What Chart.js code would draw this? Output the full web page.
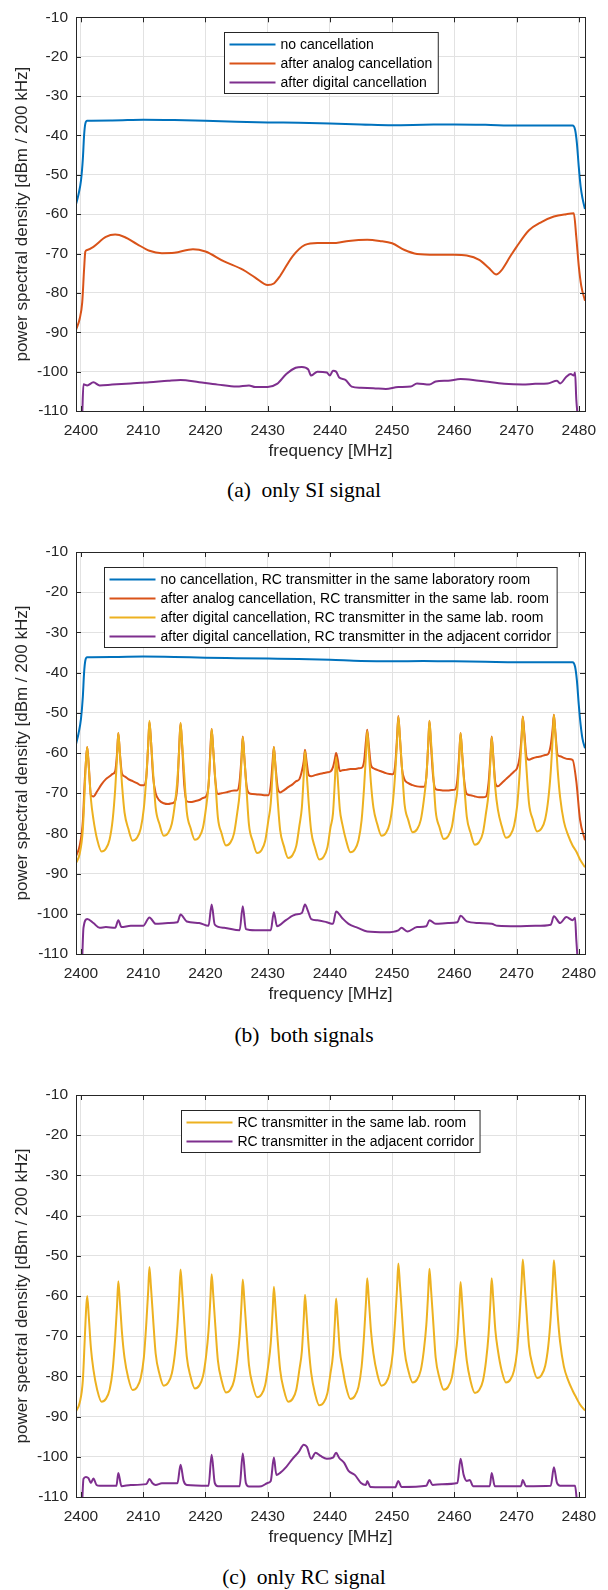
<!DOCTYPE html>
<html>
<head>
<meta charset="utf-8">
<script src="https://cdn.jsdelivr.net/npm/chart.js@4.4.0/dist/chart.umd.min.js"></script>
<style>
  body { margin: 0; background: #fff; }
  #page { position: relative; width: 608px; height: 1590px; }
  .panel { position: absolute; left: 0; }
  .cap { position: absolute; left: 0; width: 608px; text-align: center; font-family: "Liberation Serif", "Times New Roman", serif; font-size: 21.5px; line-height: 24px; color: #000; }
</style>
</head>
<body>
<div id="page">
  <canvas class="panel" id="chartA" width="608" height="470" style="top:0"></canvas>
  <div class="cap" style="top:478px">(a)&nbsp; only SI signal</div>
  <canvas class="panel" id="chartB" width="608" height="493" style="top:520px"></canvas>
  <div class="cap" style="top:1023px">(b)&nbsp; both signals</div>
  <canvas class="panel" id="chartC" width="608" height="496" style="top:1060px"></canvas>
  <div class="cap" style="top:1565px">(c)&nbsp; only RC signal</div>
</div>
<script>
// axis ticks
const freqTicks = [2400, 2410, 2420, 2430, 2440, 2450, 2460, 2470, 2480];
const psdTicks = [-10, -20, -30, -40, -50, -60, -70, -80, -90, -100, -110];

// (a) only SI signal
const freqNoCancA = [2399.2, 2399.6, 2400, 2400.3, 2400.5, 2400.7, 2401, 2405, 2410, 2415, 2420, 2425, 2430, 2435, 2440, 2445, 2450, 2455, 2460, 2465, 2470, 2475, 2479, 2479.4, 2479.7, 2480, 2480.3, 2480.6, 2481];
const psdNoCancA = [-57.5, -55, -51.5, -46, -40, -37, -36.3, -36.2, -36, -36.1, -36.3, -36.5, -36.7, -36.8, -37, -37.2, -37.4, -37.3, -37.2, -37.3, -37.5, -37.5, -37.5, -38.5, -42, -48, -53, -56, -58.7];

const freqAnalogA = [2399.2, 2399.8, 2400.2, 2400.5, 2400.7, 2401, 2402, 2404, 2405.5, 2407, 2409, 2411, 2413, 2415, 2418, 2420, 2423, 2426, 2428, 2430, 2431, 2432, 2434, 2436, 2438, 2441, 2443, 2446, 2448, 2450, 2452, 2454, 2457, 2460, 2462, 2464, 2465.5, 2466.7, 2467.5, 2469, 2470, 2472, 2474, 2476, 2478, 2479.2, 2479.6, 2480, 2480.4, 2481];
const psdAnalogA = [-89.4, -86.5, -82.4, -74, -69.5, -69.1, -68.3, -65.8, -65.2, -65.8, -67.6, -69.3, -69.9, -69.8, -68.9, -69.5, -72, -74.1, -76.1, -78, -77.6, -75.7, -70.7, -67.8, -67.3, -67.3, -66.8, -66.5, -66.8, -67.4, -69.1, -70.1, -70.3, -70.3, -70.5, -71.6, -73.6, -75.3, -74.4, -70.7, -68.3, -64.1, -62, -60.6, -60, -59.8, -65.8, -73.2, -78.2, -82];

const freqDigitalA = [2400.2, 2400.4, 2401, 2402, 2403, 2405, 2408, 2411, 2414, 2416, 2419, 2422, 2425, 2427, 2428, 2430, 2431.5, 2433, 2434.5, 2435.5, 2436.5, 2437, 2438, 2439.5, 2440, 2440.5, 2441, 2441.5, 2442.5, 2443.5, 2445, 2447, 2449, 2451, 2453, 2454, 2456, 2457, 2459, 2461, 2463, 2465, 2468, 2471, 2473, 2475, 2476.5, 2477, 2478, 2478.7, 2479.2, 2479.4, 2479.6, 2479.8];
const psdDigitalA = [-111, -103.2, -103.5, -102.7, -103.5, -103.3, -103, -102.7, -102.3, -102.1, -102.7, -103.3, -103.8, -103.5, -103.9, -103.9, -103.1, -100.6, -99, -98.8, -99.4, -101, -100, -100.2, -101, -99.8, -100, -101.5, -102.1, -103.8, -104.1, -104.2, -104.4, -103.9, -103.8, -103, -103.3, -102.5, -102.3, -101.9, -102.1, -102.5, -103.1, -103.3, -103.1, -103, -102.3, -103, -101.3, -100.6, -101, -100.2, -107, -111];

// (b) both signals
const freqNoCancB = [2399.2, 2399.6, 2400, 2400.3, 2400.5, 2400.7, 2401, 2405, 2410, 2415, 2420, 2425, 2430, 2435, 2440, 2445, 2450, 2455, 2460, 2465, 2470, 2475, 2479, 2479.4, 2479.7, 2480, 2480.3, 2480.6, 2481];
const psdNoCancB = [-57.8, -55.2, -51.5, -46, -40, -37, -36.2, -36.1, -36, -36.1, -36.3, -36.4, -36.5, -36.6, -36.8, -37.1, -37.2, -37.1, -37.2, -37.3, -37.4, -37.4, -37.4, -38.5, -42, -48, -53, -56.5, -58.8];

// frequency grid shared by the RC-peak curves
const freqRC = [2399.2, 2399.8, 2400.3, 2400.6, 2400.8,
  2401, 2401.25, 2401.6, 2402, 2402.6, 2403.3, 2404, 2404.6, 2405.1, 2405.5, 2405.8,
  2406, 2406.25, 2406.6, 2407, 2407.6, 2408.3, 2409, 2409.6, 2410.1, 2410.5, 2410.8,
  2411, 2411.25, 2411.6, 2412, 2412.6, 2413.3, 2414, 2414.6, 2415.1, 2415.5, 2415.8,
  2416, 2416.25, 2416.6, 2417, 2417.6, 2418.3, 2419, 2419.6, 2420.1, 2420.5, 2420.8,
  2421, 2421.25, 2421.6, 2422, 2422.6, 2423.3, 2424, 2424.6, 2425.1, 2425.5, 2425.8,
  2426, 2426.25, 2426.6, 2427, 2427.6, 2428.3, 2429, 2429.6, 2430.1, 2430.5, 2430.8,
  2431, 2431.25, 2431.6, 2432, 2432.6, 2433.3, 2434, 2434.6, 2435.1, 2435.5, 2435.8,
  2436, 2436.25, 2436.6, 2437, 2437.6, 2438.3, 2439, 2439.6, 2440.1, 2440.5, 2440.8,
  2441, 2441.25, 2441.6, 2442, 2442.6, 2443.3, 2444, 2444.6, 2445.1, 2445.5, 2445.8,
  2446, 2446.25, 2446.6, 2447, 2447.6, 2448.3, 2449, 2449.6, 2450.1, 2450.5, 2450.8,
  2451, 2451.25, 2451.6, 2452, 2452.6, 2453.3, 2454, 2454.6, 2455.1, 2455.5, 2455.8,
  2456, 2456.25, 2456.6, 2457, 2457.6, 2458.3, 2459, 2459.6, 2460.1, 2460.5, 2460.8,
  2461, 2461.25, 2461.6, 2462, 2462.6, 2463.3, 2464, 2464.6, 2465.1, 2465.5, 2465.8,
  2466, 2466.25, 2466.6, 2467, 2467.6, 2468.3, 2469, 2469.6, 2470.1, 2470.5, 2470.8,
  2471, 2471.25, 2471.6, 2472, 2472.6, 2473.3, 2474, 2474.6, 2475.1, 2475.5, 2475.8,
  2476, 2476.25, 2476.6, 2477, 2477.6, 2478.3, 2479, 2479.6, 2480.2, 2481];

const psdAnalogB = [-85.7, -83, -77, -67, -62,
  -58.5, -63, -70.5, -70.8, -69.5, -67.8, -66.5, -65.8, -65.2, -64.5, -60,
  -55, -60, -65.2, -65.8, -66.5, -67, -67.5, -68, -68, -66, -58,
  -52.3, -57, -66, -70, -71.8, -72.5, -72.7, -72.5, -72, -68, -58,
  -52.6, -58, -68, -72, -72.2, -72, -71.7, -71.2, -70.8, -68, -59,
  -54, -59, -67, -70.2, -70, -69.8, -69.5, -69.3, -69.3, -67, -61,
  -55.9, -61, -68, -70, -70.2, -70.3, -70.4, -70.5, -70.5, -68, -62,
  -58.5, -63, -68.5, -69.8, -69.3, -68.5, -67.8, -67, -66.5, -64.5, -62,
  -59.2, -62, -65.5, -65.8, -65.5, -65.2, -65, -64.8, -64.6, -63.5, -61.5,
  -60, -61.5, -64.5, -64.3, -64.2, -64, -64, -63.8, -63.7, -62, -57,
  -54.2, -58, -63, -63.8, -64.2, -64.6, -65, -65.2, -65.3, -63, -56,
  -50.8, -56, -64, -66.6, -67.5, -68, -68.3, -68.4, -68.4, -66, -58,
  -52, -58, -66, -69, -69.2, -69.3, -69.3, -69.2, -69.1, -66.5, -60,
  -55, -60, -67, -70.2, -70.5, -70.8, -71, -71, -70.8, -67.5, -61,
  -55.9, -60.5, -67.5, -68.3, -67.5, -66.5, -65.5, -64.6, -63.7, -61, -56,
  -50.9, -55, -61, -61.7, -61.3, -61, -60.8, -60.5, -60.2, -58, -54,
  -50.5, -55, -60.5, -60.8, -61.2, -61.5, -61.7, -67, -76.6, -81.7];

const psdDigitalSameB = [-87.4, -85, -79, -69, -62,
  -58.5, -63.5, -71.5, -76.5, -81.5, -84.5, -83.8, -81.5, -76.5, -69, -61,
  -55, -60, -68, -74.8, -78.8, -81.8, -81.1, -78.8, -73.8, -66, -58,
  -52, -57, -65, -73.6, -77.6, -80.6, -79.9, -77.6, -72.6, -66.5, -58.5,
  -52.5, -57.5, -65.5, -74.6, -78.6, -81.6, -80.9, -78.6, -73.6, -68, -60,
  -54, -59, -67, -76, -80, -83, -82.3, -80, -75, -70, -62,
  -56, -61, -69, -77.9, -81.9, -84.9, -84.2, -81.9, -76.9, -72.5, -64.5,
  -58.5, -63.5, -71.5, -79.1, -83.1, -86.1, -85.4, -83.1, -78.1, -73.5, -65.5,
  -59.5, -64.5, -72.5, -79.5, -83.5, -86.5, -85.8, -83.5, -78.5, -75, -67,
  -61, -66, -74, -77.7, -81.7, -84.7, -84, -81.7, -76.7, -68.5, -60.5,
  -54.5, -59.5, -67.5, -73.6, -77.6, -80.6, -79.9, -77.6, -72.6, -65, -57,
  -51, -56, -64, -72.7, -76.7, -79.7, -79, -76.7, -71.7, -66, -58,
  -52, -57, -65, -74.4, -78.4, -81.4, -80.7, -78.4, -73.4, -69, -61,
  -55, -60, -68, -75.8, -79.8, -82.8, -82.1, -79.8, -74.8, -70, -62,
  -56, -61, -69, -74.1, -78.1, -81.1, -80.4, -78.1, -73.1, -65, -57,
  -51, -56, -64, -72.5, -76.5, -79.5, -78.8, -76.5, -71.5, -64.5, -56.5,
  -50.5, -55.5, -64, -71, -77, -80.5, -83, -84.5, -86.5, -88.4];

const freqDigitalCorrB = [2400.2, 2400.4, 2401, 2402, 2403, 2404, 2405.5, 2406, 2406.5, 2408, 2410, 2411, 2412, 2414, 2415.5, 2416, 2417, 2419, 2420.5, 2421, 2421.5, 2423, 2425.5, 2426, 2426.5, 2428, 2430.5, 2431, 2431.5, 2433, 2434.5, 2435.5, 2436, 2436.5, 2437, 2438, 2439.5, 2440.5, 2441, 2442, 2443, 2444.5, 2446, 2449, 2451, 2451.5, 2452.5, 2454, 2455.5, 2456, 2457, 2459, 2460.5, 2461, 2462, 2464, 2466, 2467, 2470, 2473, 2475.5, 2476, 2477, 2478, 2479, 2479.4, 2479.6, 2479.8];
const psdDigitalCorrB = [-111, -103.5, -101.3, -102.3, -103.5, -103.3, -103.5, -101.6, -103.3, -103, -103, -100.9, -102.5, -102.3, -102.1, -100.2, -101.9, -102.3, -103, -97.7, -102.7, -103.5, -104.1, -98.1, -103.8, -104.1, -104.1, -99.6, -103.1, -101.5, -100.2, -99.8, -97.7, -99.4, -101.3, -101.6, -102.1, -102.5, -99.4, -101.1, -102.5, -103.5, -104.4, -104.6, -104.1, -103.5, -104.4, -103.3, -103.1, -101.6, -102.5, -102.3, -102.1, -100.5, -101.9, -102.3, -102.5, -103, -103.1, -103, -102.7, -100.6, -102.3, -100.8, -101.6, -101, -106.4, -111];

// (c) only RC signal
const psdSameRoomC = [-88.7, -86.5, -81, -71, -64,
  -60, -65, -73, -78.3, -83.3, -86.3, -85.6, -83.3, -78.3, -70.3, -62.3,
  -56.3, -61.3, -69.3, -75.4, -80.4, -83.4, -82.7, -80.4, -75.4, -66.8, -58.8,
  -52.8, -57.8, -65.8, -74.3, -79.3, -82.3, -81.6, -79.3, -74.3, -67.4, -59.4,
  -53.4, -58.4, -66.4, -75, -80, -83, -82.3, -80, -75, -68.6, -60.6,
  -54.6, -59.6, -67.6, -76, -81, -84, -83.3, -81, -76, -69.9, -61.9,
  -55.9, -60.9, -68.9, -77.2, -82.2, -85.2, -84.5, -82.2, -77.2, -71.7, -63.7,
  -57.7, -62.7, -70.7, -78.3, -83.3, -86.3, -85.6, -83.3, -78.3, -73.7, -65.7,
  -59.7, -64.7, -72.7, -79.2, -84.2, -87.2, -86.5, -84.2, -79.2, -74.6, -66.6,
  -60.6, -65.6, -73.6, -77.6, -82.6, -85.6, -84.9, -82.6, -77.6, -69.6, -61.6,
  -55.6, -60.6, -68.6, -74.3, -79.3, -82.3, -81.6, -79.3, -74.3, -65.9, -57.9,
  -51.9, -56.9, -64.9, -73.5, -78.5, -81.5, -80.8, -78.5, -73.5, -67.2, -59.2,
  -53.2, -58.2, -66.2, -75.3, -80.3, -83.3, -82.6, -80.3, -75.3, -70.5, -62.5,
  -56.5, -61.5, -69.5, -76.1, -81.1, -84.1, -83.4, -81.1, -76.1, -69.6, -61.6,
  -55.6, -60.6, -68.6, -73.5, -78.5, -81.5, -80.8, -78.5, -73.5, -64.9, -56.9,
  -50.9, -55.9, -63.9, -72.4, -77.4, -80.4, -79.7, -77.4, -72.4, -65.1, -57.1,
  -51.1, -56, -64.5, -71.5, -77.5, -81, -83.5, -85.3, -87, -88.5];

const freqCorridorC = [2400.2, 2400.4, 2400.8, 2401.2, 2401.6, 2402, 2402.5, 2403, 2405.7, 2406, 2406.5, 2408, 2410.5, 2411, 2411.5, 2412, 2413, 2415.5, 2416, 2416.5, 2417, 2420.5, 2421, 2421.5, 2422, 2425.5, 2426, 2426.5, 2427, 2429, 2430, 2430.5, 2431, 2431.4, 2432, 2433, 2434, 2435, 2435.8, 2436.3, 2437, 2437.7, 2438.5, 2439.5, 2440.5, 2441, 2441.5, 2442.3, 2443, 2444, 2445, 2445.8, 2446, 2446.5, 2450.5, 2451, 2451.5, 2455.5, 2456, 2456.5, 2458, 2460.5, 2461, 2461.5, 2462, 2462.5, 2463, 2465.7, 2466, 2466.5, 2470.7, 2471, 2471.5, 2475.5, 2476, 2476.5, 2477, 2479.4, 2479.7];
const psdCorridorC = [-111, -105.5, -105, -105.3, -106.5, -105.4, -107, -107.2, -107.2, -104, -107.3, -107, -106.8, -105.5, -106.6, -107, -106.6, -106.6, -102, -106, -107, -107.2, -99.5, -106.5, -107.3, -107.3, -99.2, -106.5, -107.4, -107.3, -106.5, -106, -100.2, -104.5, -104, -102.5, -100.5, -98.8, -97, -97.5, -100.5, -99, -99.8, -100.5, -100.2, -99, -100.3, -101.5, -103.5, -104.5, -106.5, -107, -106, -107.5, -107.6, -106, -107.5, -107.2, -105.8, -107, -106.8, -106.5, -100.5, -104.5, -106, -105.8, -107.3, -107.3, -104, -107.3, -107.3, -105.8, -107.3, -107.2, -102.6, -106.5, -107.2, -107.2, -111];

const BLUE = '#0072BD', ORANGE = '#D95319', YELLOW = '#EDB120', PURPLE = '#7E2F8E';
const FONT = '"Liberation Sans", Arial, Helvetica, sans-serif';

function pts(fx, fy) {
    return fx.map((f, i) => ({x: f, y: fy[i]}));
}

function series(label, color, fx, fy, order) {
    return {
        label: label,
        data: pts(fx, fy),
        borderColor: color,
        backgroundColor: color,
        borderWidth: 2,
        pointRadius: 0,
        cubicInterpolationMode: 'monotone',
        order: order
    };
}

// box, inner ticks and legend like the MATLAB figure
const matlabBox = {
    id: 'matlabBox',
    afterDraw(chart) {
        const {ctx, chartArea: a, scales: {x, y}} = chart;
        ctx.save();
        ctx.strokeStyle = '#262626';
        ctx.lineWidth = 1;
        ctx.beginPath();
        x.ticks.forEach(t => {
            const px = Math.round(x.getPixelForValue(t.value)) + 0.5;
            ctx.moveTo(px, a.top); ctx.lineTo(px, a.top + 5);
            ctx.moveTo(px, a.bottom); ctx.lineTo(px, a.bottom - 5);
        });
        y.ticks.forEach(t => {
            const py = Math.round(y.getPixelForValue(t.value)) + 0.5;
            ctx.moveTo(a.left, py); ctx.lineTo(a.left + 5, py);
            ctx.moveTo(a.right, py); ctx.lineTo(a.right - 5, py);
        });
        ctx.stroke();
        ctx.strokeRect(Math.round(a.left) + 0.5, Math.round(a.top) + 0.5, Math.round(a.right - a.left), Math.round(a.bottom - a.top));

        // legend
        const sets = chart.data.datasets;
        ctx.font = '14px ' + FONT;
        const textW = Math.max(...sets.map(d => ctx.measureText(d.label).width));
        const w = 5 + 46 + 5 + textW + 6;
        const h = 19 * sets.length + 4;
        const lx = Math.round((a.left + a.right) / 2 - w / 2) + 0.5;
        const ly = Math.round(a.top + 15) + 0.5;
        ctx.fillStyle = '#fff';
        ctx.fillRect(lx, ly, w, h);
        ctx.strokeStyle = '#262626';
        ctx.strokeRect(lx, ly, w, h);
        ctx.textBaseline = 'middle';
        sets.forEach((d, i) => {
            const ry = ly + 12 + i * 19;
            ctx.strokeStyle = d.borderColor;
            ctx.lineWidth = 2;
            ctx.beginPath();
            ctx.moveTo(lx + 5, ry); ctx.lineTo(lx + 51, ry);
            ctx.stroke();
            ctx.fillStyle = '#000';
            ctx.fillText(d.label, lx + 56, ry + 1);
        });
        ctx.restore();
    }
};

function makeChart(id, padTop, datasets) {
    return new Chart(document.getElementById(id), {
        type: 'line',
        data: {datasets: datasets},
        options: {
            responsive: false,
            animation: false,
            layout: {padding: {top: padTop, right: 23, left: 0, bottom: 0}},
            plugins: {legend: {display: false}, tooltip: {enabled: false}},
            scales: {
                x: {
                    type: 'linear',
                    min: 2399.2,
                    max: 2481,
                    afterBuildTicks: s => { s.ticks = freqTicks.map(v => ({value: v})); },
                    afterFit: s => { s.height = 59; },
                    grid: {color: '#e2e2e2', drawTicks: false},
                    border: {display: false},
                    ticks: {color: '#262626', font: {family: FONT, size: 15.5}, padding: 10, maxRotation: 0,
                        callback: v => String(v)},
                    title: {display: true, text: 'frequency [MHz]', color: '#262626',
                        font: {family: FONT, size: 17}, padding: {top: 0, bottom: 8}}
                },
                y: {
                    type: 'linear',
                    min: -110,
                    max: -10,
                    afterBuildTicks: s => { s.ticks = psdTicks.map(v => ({value: v})); },
                    afterFit: s => { s.width = 76; },
                    grid: {color: '#e2e2e2', drawTicks: false},
                    border: {display: false},
                    ticks: {color: '#262626', font: {family: FONT, size: 15.5}, padding: 8,
                        callback: v => String(v)},
                    title: {display: true, text: 'power spectral density [dBm / 200 kHz]', color: '#262626',
                        font: {family: FONT, size: 17}, padding: {top: 12, bottom: 0}}
                }
            }
        },
        plugins: [matlabBox]
    });
}

makeChart('chartA', 8, [
    series('no cancellation', BLUE, freqNoCancA, psdNoCancA, 3),
    series('after analog cancellation', ORANGE, freqAnalogA, psdAnalogA, 2),
    series('after digital cancellation', PURPLE, freqDigitalA, psdDigitalA, 1)
]);

makeChart('chartB', 32, [
    series('no cancellation, RC transmitter in the same laboratory room', BLUE, freqNoCancB, psdNoCancB, 4),
    series('after analog cancellation, RC transmitter in the same lab. room', ORANGE, freqRC, psdAnalogB, 3),
    series('after digital cancellation, RC transmitter in the same lab. room', YELLOW, freqRC, psdDigitalSameB, 2),
    series('after digital cancellation, RC transmitter in the adjacent corridor', PURPLE, freqDigitalCorrB, psdDigitalCorrB, 1)
]);

makeChart('chartC', 35, [
    series('RC transmitter in the same lab. room', YELLOW, freqRC, psdSameRoomC, 2),
    series('RC transmitter in the adjacent corridor', PURPLE, freqCorridorC, psdCorridorC, 1)
]);
</script>
</body>
</html>
